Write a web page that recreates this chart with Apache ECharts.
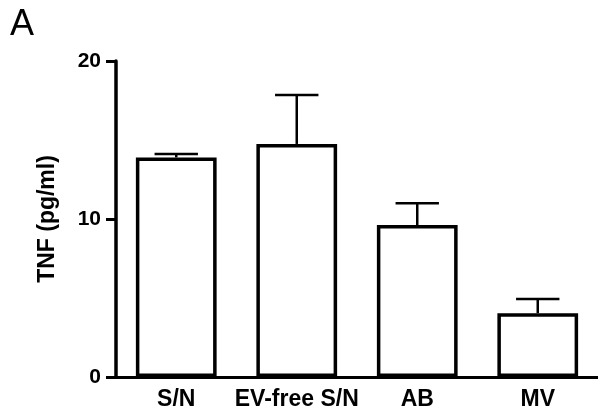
<!DOCTYPE html>
<html>
<head>
<meta charset="utf-8">
<script src="https://cdn.jsdelivr.net/npm/echarts@6/dist/echarts.min.js"></script>
<style>
  html, body { margin: 0; padding: 0; background: #fff; }
  #tnf-chart { width: 598px; height: 415px; }
</style>
</head>
<body>
<div id="tnf-chart"></div>
<script>
// 데이터
var categories = ['S/N', 'EV-free S/N', 'AB', 'MV'];
var meanValues = [13.9, 14.75, 9.62, 4.04];
var errValues = [0.22, 3.1, 1.38, 0.9];
var yTicks = [0, 10, 20];

var FONT = '"Liberation Sans", Arial, sans-serif';

// 에러바 데이터: [index, mean, mean + err]
var errData = categories.map(function (c, i) {
    return [i, meanValues[i], meanValues[i] + errValues[i]];
});

function renderErr(params, api) {
    var base = api.coord([api.value(0), api.value(1)]);
    var top = api.coord([api.value(0), api.value(2)]);
    var half = api.size([1, 0])[0] * 0.18;
    var style = { stroke: '#000', lineWidth: 2.5 };
    return {
        type: 'group',
        children: [
            { type: 'line', shape: { x1: base[0], y1: base[1], x2: top[0], y2: top[1] }, style: style },
            { type: 'line', shape: { x1: top[0] - half, y1: top[1], x2: top[0] + half, y2: top[1] }, style: style }
        ]
    };
}

var option = {
    animation: false,
    backgroundColor: '#fff',
    title: {
        text: 'A',
        left: 5,
        top: 2,
        textStyle: { fontFamily: FONT, fontSize: 36, fontWeight: 'normal', color: '#000' }
    },
    grid: { left: 116, right: 0, top: 61, bottom: 38 },
    xAxis: {
        type: 'category',
        data: categories,
        axisLine: { lineStyle: { color: '#000', width: 3 } },
        axisTick: { alignWithLabel: true, length: 9, lineStyle: { color: '#000', width: 3 } },
        axisLabel: {
            margin: 11,
            color: '#000',
            fontFamily: FONT,
            fontSize: 23,
            fontWeight: 'bold',
            interval: 0
        }
    },
    yAxis: {
        type: 'value',
        min: yTicks[0],
        max: yTicks[yTicks.length - 1],
        interval: 10,
        name: 'TNF (pg/ml)',
        nameLocation: 'middle',
        nameRotate: 90,
        nameGap: 57,
        nameTextStyle: { fontFamily: FONT, fontSize: 23, fontWeight: 'bold', color: '#000' },
        axisLine: { show: true, lineStyle: { color: '#000', width: 3.5 } },
        axisTick: { show: true, length: 10, lineStyle: { color: '#000', width: 3 } },
        axisLabel: {
            margin: 15,
            color: '#000',
            fontFamily: FONT,
            fontSize: 21,
            fontWeight: 'bold'
        },
        splitLine: { show: false }
    },
    series: [
        {
            type: 'bar',
            data: meanValues,
            barWidth: '67%',
            itemStyle: { color: '#fff', borderColor: '#000', borderWidth: 3.5 },
            z: 2
        },
        {
            type: 'custom',
            data: errData,
            renderItem: renderErr,
            encode: { x: 0, y: [1, 2] },
            z: 3
        }
    ]
};

var dom = document.querySelector('#tnf-chart');
var myChart = echarts.init(dom);
myChart.setOption(option, true);
</script>
</body>
</html>
